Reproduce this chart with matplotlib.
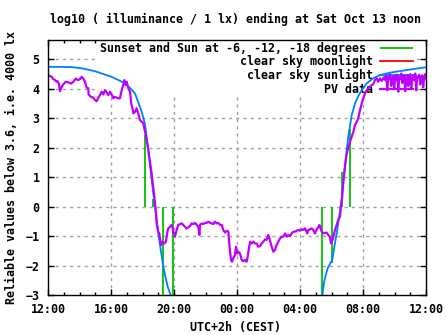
import numpy as np
import matplotlib
matplotlib.use("Agg")
import matplotlib.pyplot as plt

# hours after Fri 12:00 CEST, log10(illuminance / 1 lx)
pv_h = [0.0, 0.23, 0.34, 0.44, 0.55, 0.61, 0.69, 0.76, 0.87, 0.97, 1.12, 1.29, 1.46, 1.61,
        1.76, 1.89, 2.03, 2.14, 2.24, 2.35, 2.46, 2.56, 2.58, 2.73, 2.88, 2.98, 3.09, 3.19,
        3.30, 3.41, 3.51, 3.62, 3.73, 3.83, 3.94, 4.04, 4.15, 4.25, 4.36, 4.46, 4.57, 4.68,
        4.78, 4.85, 4.93, 5.00, 5.10, 5.21, 5.27, 5.36, 5.42, 5.52, 5.63, 5.73, 5.84, 5.95,
        6.05, 6.16, 6.27, 6.37, 6.43, 6.52, 6.58, 6.65, 6.73, 6.79, 6.86, 6.90, 7.00, 7.07,
        7.16, 7.22, 7.28, 7.38, 7.49, 7.58, 7.64, 7.75, 7.85, 7.92, 7.96, 8.02, 8.06, 8.17,
        8.27, 8.38, 8.49, 8.59, 8.70, 8.81, 8.97,
        9.02, 9.12, 9.23, 9.33, 9.44, 9.54, 9.61, 9.65, 9.76, 9.86, 9.97, 10.08, 10.18,
        10.29, 10.39, 10.50, 10.60, 10.71, 10.81, 10.92, 11.03, 11.13, 11.24, 11.35, 11.45,
        11.51, 11.56, 11.62, 11.68, 11.77, 11.87, 11.94, 12.02, 12.08, 12.19, 12.30, 12.40,
        12.51, 12.61, 12.68, 12.74, 12.83, 12.93, 13.04, 13.14, 13.25, 13.35, 13.46, 13.57,
        13.67, 13.78, 13.88, 13.99, 14.10, 14.20, 14.31, 14.41, 14.52, 14.62, 14.73, 14.84,
        14.94, 15.05, 15.15, 15.26, 15.37, 15.47, 15.58, 15.68, 15.79, 15.89, 16.00, 16.11,
        16.21, 16.32, 16.42, 16.46, 16.53, 16.63, 16.74, 16.84, 16.95, 17.06, 17.16, 17.23,
        17.31, 17.38, 17.48, 17.59, 17.69, 17.80, 17.90,
        17.97, 18.06, 18.12, 18.22, 18.33, 18.43, 18.54, 18.60, 18.67, 18.71, 18.75, 18.81,
        18.88, 18.96, 19.07, 19.17, 19.28, 19.39, 19.49, 19.60, 19.70, 19.81, 19.92, 20.02,
        20.13, 20.24, 20.34, 20.44, 20.55, 20.65, 20.76, 20.87, 20.97, 21.08, 21.19, 21.29,
        21.35, 21.41, 21.48, 21.54, 21.60, 21.67, 21.73, 21.79, 21.86, 21.92, 21.98, 22.05,
        22.11, 22.17, 22.24, 22.30, 22.37, 22.43, 22.49, 22.56, 22.62, 22.68, 22.75, 22.81,
        22.87, 22.94, 23.00, 23.06, 23.13, 23.19, 23.25, 23.32, 23.38, 23.44, 23.51, 23.57,
        23.63, 23.70, 23.76, 23.82, 23.89, 23.95, 24.0]
pv_v = [4.47, 4.41, 4.33, 4.30, 4.24, 4.26, 4.18, 3.92, 4.07, 4.15, 4.24, 4.22, 4.18, 4.24,
        4.35, 4.30, 4.33, 4.41, 4.35, 4.24, 4.04, 4.02, 3.81, 3.73, 3.70, 3.62, 3.58, 3.70,
        3.79, 3.90, 3.81, 3.96, 3.88, 3.79, 3.90, 3.81, 3.68, 3.73, 3.70, 3.68, 3.68, 3.96,
        4.13, 4.30, 4.13, 4.24, 4.02, 3.90, 3.56, 3.34, 3.17, 3.22, 3.34, 3.17, 2.94, 2.88,
        2.83, 2.54, 2.26, 1.92, 1.69, 1.35, 1.13, 0.79, 0.45, 0.11, -0.23, -0.57, -0.85, -0.91,
        -1.25, -1.30, -1.19, -1.25, -1.19, -0.85, -0.74, -0.68, -0.62, -0.74, -0.91, -0.89, -1.02, -0.79,
        -0.62, -0.59, -0.57, -0.62, -0.68, -0.74, -0.68,
        -0.66, -0.57, -0.59, -0.55, -0.62, -0.68, -0.96, -0.62, -0.57, -0.59, -0.55, -0.55, -0.51,
        -0.55, -0.57, -0.59, -0.51, -0.57, -0.55, -0.62, -0.62, -0.79, -0.88, -0.82, -0.85,
        -1.25, -1.53, -1.81, -1.87, -1.75, -1.64, -1.36, -1.59, -1.53, -1.59, -1.81, -1.85,
        -1.81, -1.87, -1.70, -1.47, -1.19, -1.25, -1.19, -1.25, -1.25, -1.36, -1.34, -1.25,
        -1.19, -1.11, -1.13, -0.96, -1.16, -1.36, -1.53, -1.47, -1.30, -1.19, -1.08, -1.02,
        -1.02, -0.91, -1.02, -0.96, -1.00, -0.91, -0.85, -0.85, -0.82, -0.79, -0.82, -0.77,
        -0.79, -0.74, -0.85, -0.91, -0.79, -0.77, -0.74, -0.79, -0.91, -0.77, -0.70, -0.62,
        -0.74, -0.85, -0.91, -0.89, -0.88, -0.96, -1.03,
        -1.25, -1.13, -1.02, -0.79, -0.62, -0.45, -0.34, 0.00, 0.28, 0.56, 0.85, 1.13,
        1.47, 1.78, 2.03, 2.20, 2.37, 2.54, 2.77, 2.88, 3.00, 3.28, 3.51, 3.68,
        3.85, 3.96, 4.02, 4.07, 4.13, 4.16, 4.30, 4.36, 4.24, 4.36, 4.27, 4.36,
        4.40, 4.30, 4.45, 3.95, 4.40, 4.35, 4.50, 4.10, 4.38, 4.42, 4.00, 4.45,
        4.30, 4.48, 3.90, 4.40, 4.35, 4.52, 4.20, 4.40, 4.45, 3.92, 4.38, 4.46,
        4.10, 4.40, 4.50, 4.00, 4.35, 4.45, 4.30, 4.52, 3.95, 4.42, 4.38, 4.48,
        4.15, 4.40, 4.46, 4.05, 4.42, 4.50, 4.36]

# clear sky sunlight model
sun_h = [0.0, 1.5, 2.14, 2.98, 4.04, 4.89, 5.21, 5.52, 5.95, 6.16, 6.48, 6.69, 7.0, 7.32,
         7.60, 7.79]
sun_v = [4.75, 4.74, 4.70, 4.60, 4.41, 4.19, 4.03, 3.85, 3.22, 2.80, 1.40, 0.45, -0.90,
         -2.04, -2.72, -3.0]
sunrise_h = [17.42, 17.55, 17.75, 18.05, 18.2, 18.33, 18.5, 18.65, 18.8, 18.9, 19.07, 19.28,
             19.49, 19.70, 19.92, 20.24, 20.65, 21.08, 21.71, 22.77, 23.94, 24.0]
sunrise_v = [-3.0, -2.5, -2.1, -1.8, -1.3, -0.9, -0.3, 0.3, 1.1, 1.6, 2.4, 3.1,
             3.5, 3.75, 3.96, 4.19, 4.36, 4.47, 4.55, 4.64, 4.73, 4.73]

# clear sky moonlight (moon not up in this window)
moon_h = []
moon_v = []

# sunset, -6, -12, -18 degrees and back in the morning
event_h = [6.16, 6.67, 7.30, 7.96, 17.42, 18.05, 18.69, 19.19]
event_v = [2.42, 0.25, -3.0, -3.0, -3.0, -1.92, 1.17, 2.63]

xtick_labels = ["12:00", "16:00", "20:00", "00:00", "04:00", "08:00", "12:00"]

plt.rcParams['font.family'] = 'DejaVu Sans Mono'
plt.rcParams['font.weight'] = 'bold'
plt.rcParams['font.size'] = 8.4

fig = plt.figure(figsize=(4.47, 3.35), dpi=100)
ax = fig.add_axes([48/447, 40/335, 378/447, 255/335])

ax.vlines(event_h, 0, event_v, color='#00c000', lw=1.3,
          label='Sunset and Sun at -6, -12, -18 degrees ')
ax.plot(moon_h, moon_v, color='#ff0000', lw=1.3, label='clear sky moonlight')
ax.plot(sun_h, sun_v, color='#0080ff', lw=1.3, label='clear sky sunlight')
ax.plot(sunrise_h, sunrise_v, color='#0080ff', lw=1.3)
ax.plot(pv_h, pv_v, color='#c000ff', lw=1.6, label='PV data')

ax.set_xlim(0, 24)
ax.set_ylim(-3, 5.66)
ax.set_xticks(np.arange(0, 25, 4))
ax.set_xticklabels(xtick_labels)
ax.set_xticks(np.arange(0, 25, 1), minor=True)
ax.set_yticks(np.arange(-3, 6, 1))

for gx in range(4, 24, 4):
    ax.axvline(gx, color='#a0a0a0', lw=1, ls=(0, (2.2, 3)), zorder=0)
for gy in range(-2, 6):
    ax.axhline(gy, color='#a0a0a0', lw=1, ls=(0, (2.2, 3)), zorder=0)

ax.tick_params(which='both', direction='in', top=True, right=True, width=1)
ax.tick_params(which='major', length=4.5, pad=6)
ax.tick_params(which='minor', length=2.5)
ax.tick_params(axis='y', which='minor', left=False, right=False)
for s in ax.spines.values():
    s.set_linewidth(1)

# opaque key: hides the grid, curves still run across it
leg = ax.legend(loc='upper right', bbox_to_anchor=(0.969, 1.0), frameon=True,
                markerfirst=False, borderpad=0.15, borderaxespad=0, handlelength=2.8,
                handletextpad=0.6, labelspacing=0.05, fancybox=False)
leg.get_frame().set_facecolor('white')
leg.get_frame().set_edgecolor('none')
leg.get_frame().set_alpha(1)
leg.set_zorder(1.5)

fig.text(235.5/447, 1 - 19/335, 'log10 ( illuminance / 1 lx) ending at Sat Oct 13 noon',
         ha='center', va='center')
fig.text(236/447, 1 - 328/335, 'UTC+2h (CEST)', ha='center', va='center')
fig.text(12/447, 1 - 168/335, 'Reliable values below 3.6, i.e. 4000 lx',
         rotation=90, ha='center', va='center')

fig.savefig('out.png', dpi=100)
